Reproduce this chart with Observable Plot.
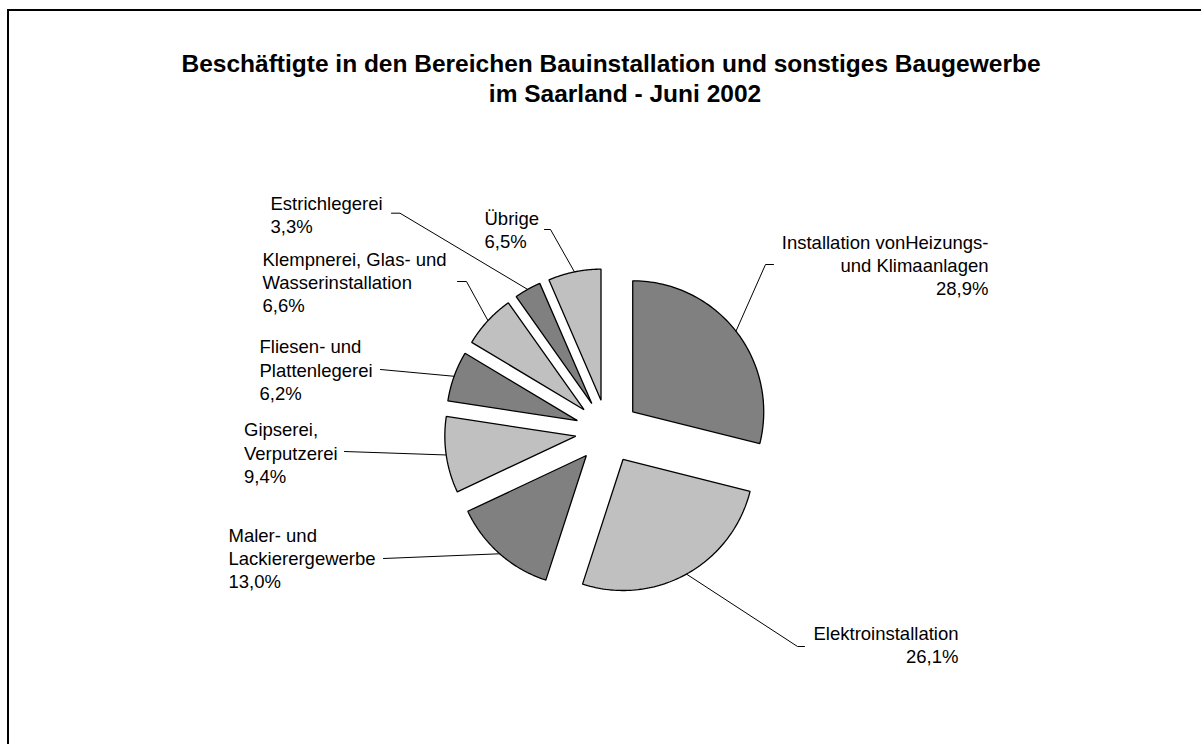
<!DOCTYPE html>
<html>
<head>
<meta charset="utf-8">
<script src="https://cdn.jsdelivr.net/npm/d3@7"></script>
<script src="https://cdn.jsdelivr.net/npm/@observablehq/plot@0.6"></script>
<style>
html, body { margin: 0; padding: 0; background: #fff; overflow: hidden; width: 1201px; height: 744px; }
#wrap { position: relative; width: 1201px; height: 744px; overflow: hidden; font-family: "Liberation Sans", Arial, sans-serif; }
#frame { position: absolute; left: 7px; top: 9px; width: 1300px; height: 900px; border-left: 2px solid #000; border-top: 2px solid #000; box-sizing: border-box; }
.tline { position: absolute; left: 0; text-align: center; font-weight: bold; font-size: 24.5px; line-height: 30px; color: #000; white-space: nowrap; }
#t1 { top: 49px; width: 1222px; }
#t2 { top: 79px; width: 1250px; }
#chart { position: absolute; left: 0; top: 120px; }
</style>
</head>
<body>
<div id="wrap">
  <div id="frame"></div>
  <div id="t1" class="tline">Beschäftigte in den Bereichen Bauinstallation und sonstiges Baugewerbe</div>
  <div id="t2" class="tline">im Saarland - Juni 2002</div>
  <div id="chart"></div>
</div>
<script>
// ---- data ----
const categories = [
  "Installation vonHeizungs-\nund Klimaanlagen",
  "Elektroinstallation",
  "Maler- und\nLackierergewerbe",
  "Gipserei,\nVerputzerei",
  "Fliesen- und\nPlattenlegerei",
  "Klempnerei, Glas- und\nWasserinstallation",
  "Estrichlegerei",
  "Übrige"
];
const values = [28.9, 26.1, 13.0, 9.4, 6.2, 6.6, 3.3, 6.5];
const sliceColors = ["#808080", "#c0c0c0", "#808080", "#c0c0c0", "#808080", "#c0c0c0", "#808080", "#c0c0c0"];

// ---- layout (page pixels) ----
const W = 1201, H = 744, TOP = 120;
const CX = 607, CY = 431, R = 131, EXPLODE = 32;
const FONT = 18.5, LINE = 23.3;
// label: x, first baseline y, anchor, leader start, optional elbow
const labelLayout = [
  {x: 988, y: 248.3, anchor: "end",   start: [773, 264],   elbow: [765, 264]},
  {x: 958, y: 639.5, anchor: "end",   start: [804, 646],   elbow: [797, 646]},
  {x: 228, y: 541,   anchor: "start", start: [383, 558],   elbow: null},
  {x: 243.5, y: 435.7, anchor: "start", start: [344, 451], elbow: null},
  {x: 259, y: 352.7, anchor: "start", start: [380, 369],   elbow: null},
  {x: 262, y: 265,   anchor: "start", start: [457, 281],   elbow: [466, 281]},
  {x: 270, y: 209.3, anchor: "start", start: [391, 212.7], elbow: [399.5, 212.7]},
  {x: 484, y: 224,   anchor: "start", start: [544, 229],   elbow: [550, 229]}
];

// ---- derived geometry ----
const arcs = d3.pie().sort(null).value(d => d)(values);
const slicePts = [];
const leaderPts = [];
const labelLines = [];
arcs.forEach((a, i) => {
  const mid = (a.startAngle + a.endAngle) / 2;
  const ax = EXPLODE * Math.sin(mid), ay = -EXPLODE * Math.cos(mid);
  slicePts.push({name: i, x: ax, y: ay, fill: sliceColors[i]});
  const N = 80;
  for (let k = 0; k <= N; k++) {
    const t = a.startAngle + (a.endAngle - a.startAngle) * k / N;
    slicePts.push({name: i, x: ax + R * Math.sin(t), y: ay - R * Math.cos(t), fill: sliceColors[i]});
  }
  const L = labelLayout[i];
  const pts = [L.start];
  if (L.elbow) pts.push(L.elbow);
  pts.forEach(p => leaderPts.push({name: i, x: p[0] - CX, y: p[1] - CY}));
  leaderPts.push({name: i, x: ax + R * Math.sin(mid), y: ay - R * Math.cos(mid)});
  const pct = values[i].toFixed(1).replace(".", ",") + "%";
  const lines = categories[i].split("\n").concat([pct]);
  lines.forEach((s, j) => labelLines.push({text: s, x: L.x - CX, y: L.y + j * LINE - CY, anchor: L.anchor}));
});

const chart = Plot.plot({
  width: W,
  height: H - TOP,
  margin: 0,
  x: {domain: [-CX, W - CX], range: [0, W], axis: null},
  y: {domain: [TOP - CY, H - CY], range: [0, H - TOP], axis: null},
  color: {type: "identity"},
  style: {background: "transparent", fontFamily: "'Liberation Sans', Arial, sans-serif", overflow: "visible"},
  marks: [
    Plot.line(slicePts, {x: "x", y: "y", z: "name", fill: "fill", stroke: "#000", strokeWidth: 1.3, curve: "linear-closed", strokeLinejoin: "miter"}),
    Plot.line(leaderPts, {x: "x", y: "y", z: "name", stroke: "#000", strokeWidth: 1, strokeLinejoin: "miter"}),
    Plot.text(labelLines, {filter: d => d.anchor === "start", x: "x", y: "y", text: "text", textAnchor: "start", lineAnchor: "bottom", fontSize: FONT, fill: "#000"}),
    Plot.text(labelLines, {filter: d => d.anchor === "end", x: "x", y: "y", text: "text", textAnchor: "end", lineAnchor: "bottom", fontSize: FONT, fill: "#000"})
  ]
});
document.getElementById("chart").appendChild(chart);
</script>
</body>
</html>
